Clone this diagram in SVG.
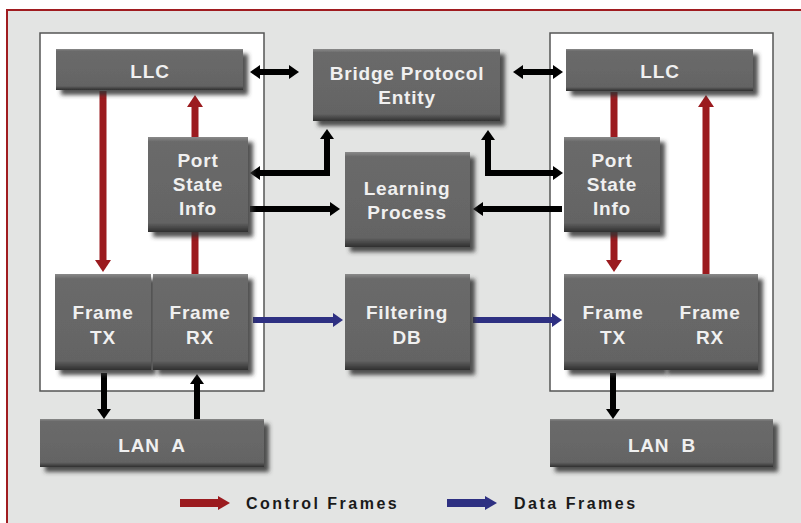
<svg xmlns="http://www.w3.org/2000/svg" width="801" height="523" viewBox="0 0 801 523">
<defs>
<style>
.box{fill:url(#bev);filter:url(#sh)}
.t{font-family:"Liberation Sans",Arial,sans-serif;font-weight:bold;font-size:19px;fill:#f0f0f0;text-anchor:middle;letter-spacing:0.8px}
.lg{font-family:"Liberation Sans",Arial,sans-serif;font-weight:bold;font-size:16px;fill:#1a1a1a;letter-spacing:2.5px}
.bk{fill:none;stroke:#000;stroke-width:6;marker-end:url(#hb)}
.bk2{fill:none;stroke:#000;stroke-width:6;marker-start:url(#hb);marker-end:url(#hb)}
.rd{fill:none;stroke:#9b1b1f;stroke-width:7;marker-end:url(#hr)}
.bl{fill:none;stroke:#2e3082;stroke-width:6;marker-end:url(#hbl)}
.panel{fill:#fff;stroke:#555;stroke-width:1.5}
</style>
<linearGradient id="bev" x1="0" y1="0" x2="0" y2="1">
<stop offset="0" stop-color="#8a8a8a"/>
<stop offset="0.05" stop-color="#6a6a6a"/>
<stop offset="0.9" stop-color="#646464"/>
<stop offset="1" stop-color="#303030"/>
</linearGradient>
<filter id="sh" x="-10%" y="-10%" width="130%" height="140%">
<feDropShadow dx="5" dy="5" stdDeviation="2" flood-color="#333" flood-opacity="0.85"/>
</filter>
<marker id="hb" markerUnits="userSpaceOnUse" markerWidth="10" markerHeight="14" refX="0" refY="7" orient="auto-start-reverse" viewBox="0 0 10 14">
<path d="M0,0 L10,7 L0,14 z" fill="#000"/>
</marker>
<marker id="hr" markerUnits="userSpaceOnUse" markerWidth="12" markerHeight="16" refX="0" refY="8" orient="auto" viewBox="0 0 12 16">
<path d="M0,0 L12,8 L0,16 z" fill="#9b1b1f"/>
</marker>
<marker id="hbl" markerUnits="userSpaceOnUse" markerWidth="10" markerHeight="14" refX="0" refY="7" orient="auto" viewBox="0 0 10 14">
<path d="M0,0 L10,7 L0,14 z" fill="#2e3082"/>
</marker>
</defs>
<rect x="0" y="0" width="801" height="523" fill="#fff"/>
<rect x="7" y="10" width="800" height="520" fill="#e3e4e3" stroke="#a01c20" stroke-width="2"/>
<rect class="panel" x="40" y="33" width="224" height="358"/>
<rect class="panel" x="550" y="33" width="223" height="358"/>

<g id="connectors">
<path class="rd" d="M103,91 V260"/>
<path class="rd" d="M195,274 V107"/>
<path class="rd" d="M614,92 V260"/>
<path class="rd" d="M706,274 V107"/>
<path class="bk2" d="M260,72 H289"/>
<path class="bk2" d="M523,72 H553"/>
<path class="bk2" d="M260,173 H327 V139"/>
<path class="bk2" d="M553,173 H488 V140"/>
<path class="bk" d="M250,209 H330"/>
<path class="bk" d="M562,209 H483"/>
<path class="bk" d="M104,373 V409"/>
<path class="bk" d="M197,419 V384"/>
<path class="bk" d="M613,373 V409"/>
<path class="bl" d="M253,320 H333"/>
<path class="bl" d="M473,320 H552"/>
</g>

<g id="llc-left"><rect class="box" x="56" y="49" width="187" height="41"/><text class="t" x="150" y="78">LLC</text></g>
<g id="bridge"><rect class="box" x="313" y="49" width="187" height="72"/><text class="t" x="407" y="80">Bridge Protocol</text><text class="t" x="407" y="104">Entity</text></g>
<g id="llc-right"><rect class="box" x="566" y="49" width="187" height="42"/><text class="t" x="660" y="78">LLC</text></g>
<g id="psi-left"><rect class="box" x="148" y="137" width="100" height="95"/><text class="t" x="198" y="167">Port</text><text class="t" x="198" y="191">State</text><text class="t" x="198" y="215">Info</text></g>
<g id="psi-right"><rect class="box" x="564" y="137" width="96" height="95"/><text class="t" x="612" y="167">Port</text><text class="t" x="612" y="191">State</text><text class="t" x="612" y="215">Info</text></g>
<g id="learning"><rect class="box" x="345" y="152" width="125" height="95"/><text class="t" x="407" y="195">Learning</text><text class="t" x="407" y="219">Process</text></g>
<g id="frametx-left"><rect class="box" x="55" y="274" width="96" height="96"/><text class="t" x="103" y="319">Frame</text><text class="t" x="103" y="344">TX</text></g>
<g id="framerx-left"><rect class="box" x="153" y="274" width="95" height="96"/><text class="t" x="200" y="319">Frame</text><text class="t" x="200" y="344">RX</text></g>
<g id="filtering"><rect class="box" x="345" y="274" width="125" height="96"/><text class="t" x="407" y="319">Filtering</text><text class="t" x="407" y="344">DB</text></g>
<g id="frametx-right"><rect class="box" x="564" y="274" width="98" height="96"/><text class="t" x="613" y="319">Frame</text><text class="t" x="613" y="344">TX</text></g>
<g id="framerx-right"><rect class="box" x="662" y="274" width="96" height="96"/><text class="t" x="710" y="319">Frame</text><text class="t" x="710" y="344">RX</text></g>
<g id="lan-a"><rect class="box" x="40" y="419" width="224" height="48"/><text class="t" x="152" y="452" style="white-space:pre">LAN  A</text></g>
<g id="lan-b"><rect class="box" x="550" y="419" width="223" height="48"/><text class="t" x="662" y="452" style="white-space:pre">LAN  B</text></g>

<g id="legend">
<path d="M180,503 H218" stroke="#9b1b1f" stroke-width="8" fill="none"/>
<path d="M218,496 L230,503 L218,510 z" fill="#9b1b1f"/>
<text class="lg" x="246" y="509">Control Frames</text>
<path d="M447,503 H485" stroke="#2e3082" stroke-width="8" fill="none"/>
<path d="M485,496 L497,503 L485,510 z" fill="#2e3082"/>
<text class="lg" x="514" y="509">Data Frames</text>
</g>
</svg>
